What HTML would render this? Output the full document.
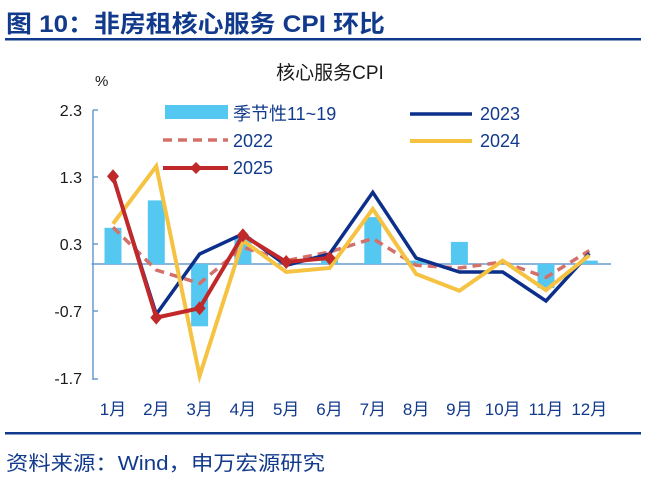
<!DOCTYPE html>
<html><head><meta charset="utf-8"><style>
html,body{margin:0;padding:0;background:#fff;}
body{width:660px;height:482px;overflow:hidden;position:relative;font-family:"Liberation Sans","Noto Sans CJK SC",sans-serif;}
</style></head><body>
<svg width="660" height="482" viewBox="0 0 660 482" xmlns="http://www.w3.org/2000/svg" style="position:absolute;left:0;top:0">
<text x="6" y="32" font-size="24" font-weight="bold" fill="#123a8c" textLength="379" lengthAdjust="spacingAndGlyphs" font-family="Liberation Sans,Noto Sans CJK SC,sans-serif">图 10：非房租核心服务 CPI 环比</text>
<rect x="5" y="38" width="636" height="2.5" fill="#123a8c"/>
<text x="330" y="79" font-size="19" fill="#1a1a1a" text-anchor="middle" font-family="Liberation Sans,Noto Sans CJK SC,sans-serif">核心服务CPI</text>
<text x="95" y="86" font-size="15" fill="#1a1a1a">%</text>
<g font-size="16" fill="#1a1a1a" text-anchor="end">
<text x="82" y="116">2.3</text><text x="82" y="183">1.3</text><text x="82" y="250">0.3</text><text x="82" y="317">-0.7</text><text x="82" y="384">-1.7</text>
</g>
<g stroke="#6a9bd1" stroke-width="1.5" fill="none">
<line x1="93" y1="110" x2="93" y2="380"/>
<line x1="93" y1="110" x2="98" y2="110"/><line x1="93" y1="177" x2="98" y2="177"/><line x1="93" y1="244" x2="98" y2="244"/><line x1="93" y1="311" x2="98" y2="311"/><line x1="93" y1="379" x2="98" y2="379"/>
<line x1="91.5" y1="264" x2="611" y2="264"/>
</g>
<g fill="#55c8f2">
<rect x="104.5" y="227.8" width="17" height="36.2"/>
<rect x="147.8" y="200.4" width="17" height="63.6"/>
<rect x="191.1" y="264" width="17" height="62.3"/>
<rect x="234.4" y="237.2" width="17" height="26.8"/>
<rect x="277.7" y="262.7" width="17" height="1.3"/>
<rect x="321" y="257.3" width="17" height="6.7"/>
<rect x="364.3" y="217.1" width="17" height="46.9"/>
<rect x="407.6" y="260.6" width="17" height="3.4"/>
<rect x="450.9" y="241.9" width="17" height="22.1"/>
<rect x="537.5" y="264" width="17" height="24.1"/>
<rect x="580.8" y="260.6" width="17" height="3.4"/>
</g>
<polyline fill="none" stroke="#d4706a" stroke-width="3.5" stroke-dasharray="9,6" points="113,227.2 156.3,270 199.6,283.4 242.9,247.3 286.2,260.7 329.5,252 372.8,238.5 416.1,265.3 459.4,268 502.7,262 546,277.4 589.3,250.6"/>
<polyline fill="none" stroke="#0b2f8a" stroke-width="3.5" points="113,176.9 156.3,314.3 199.6,254 242.9,233.9 286.2,265.3 329.5,254 372.8,192.3 416.1,258 459.4,272 502.7,272 546,300.9 589.3,253.3"/>
<polyline fill="none" stroke="#f5c242" stroke-width="4" points="113,223.8 156.3,166.2 199.6,375.9 242.9,240.6 286.2,272 329.5,268 372.8,209 416.1,274 459.4,290.8 502.7,260.7 546,290.1 589.3,255.3"/>
<polyline fill="none" stroke="#c0282a" stroke-width="4" points="113,176.2 156.3,317.6 199.6,308.2 242.9,235.2 286.2,262 329.5,258"/>
<g fill="#c0282a">
<path d="M113 169.2l6 7-6 7-6-7z"/><path d="M156.3 310.6l6 7-6 7-6-7z"/><path d="M199.6 301.2l6 7-6 7-6-7z"/><path d="M242.9 228.2l6 7-6 7-6-7z"/><path d="M286.2 255l6 7-6 7-6-7z"/><path d="M329.5 251l6 7-6 7-6-7z"/>
</g>
<rect x="165" y="105" width="63" height="14" fill="#55c8f2"/>
<text x="233" y="120" font-size="18" fill="#123a8c" font-family="Liberation Sans,Noto Sans CJK SC,sans-serif">季节性11~19</text>
<line x1="163" y1="140" x2="228" y2="140" stroke="#d4706a" stroke-width="3.5" stroke-dasharray="9,6"/>
<text x="233" y="147" font-size="18" fill="#123a8c">2022</text>
<line x1="163" y1="168" x2="228" y2="168" stroke="#c0282a" stroke-width="4"/>
<path d="M196 162l6 6-6 6-6-6z" fill="#c0282a"/>
<text x="233" y="174" font-size="18" fill="#123a8c">2025</text>
<line x1="410" y1="114" x2="472" y2="114" stroke="#0b2f8a" stroke-width="3.5"/>
<text x="480" y="120" font-size="18" fill="#123a8c">2023</text>
<line x1="410" y1="141" x2="472" y2="141" stroke="#f5c242" stroke-width="4"/>
<text x="480" y="147" font-size="18" fill="#123a8c">2024</text>
<g font-size="17" fill="#123a8c" text-anchor="middle" font-family="Liberation Sans,Noto Sans CJK SC,sans-serif">
<text x="113" y="415">1月</text><text x="156.3" y="415">2月</text><text x="199.6" y="415">3月</text><text x="242.9" y="415">4月</text><text x="286.2" y="415">5月</text><text x="329.5" y="415">6月</text><text x="372.8" y="415">7月</text><text x="416.1" y="415">8月</text><text x="459.4" y="415">9月</text><text x="502.7" y="415">10月</text><text x="546" y="415">11月</text><text x="589.3" y="415">12月</text>
</g>
<rect x="5" y="432" width="636" height="2.5" fill="#123a8c"/>
<text x="6" y="470" font-size="20" fill="#123a8c" textLength="319" lengthAdjust="spacingAndGlyphs" font-family="Liberation Sans,Noto Sans CJK SC,sans-serif">资料来源：Wind，申万宏源研究</text>
</svg>
</body></html>
